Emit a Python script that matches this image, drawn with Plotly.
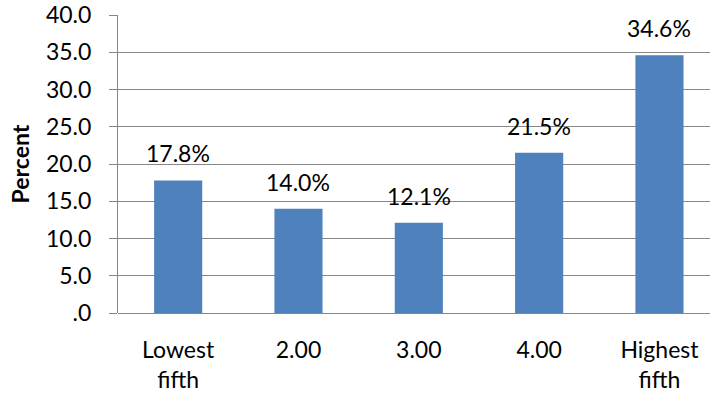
import plotly.graph_objects as go

categories = ["Lowest<br>fifth", "2.00", "3.00", "4.00", "Highest<br>fifth"]
values = [17.8, 14.0, 12.1, 21.5, 34.6]
y_ticks = [0, 5, 10, 15, 20, 25, 30, 35, 40]
y_tick_labels = [".0", "5.0", "10.0", "15.0", "20.0", "25.0", "30.0", "35.0", "40.0"]

FONT = "Lato, Carlito, Calibri, sans-serif"
GRID = "#878787"
FS = 23

fig = go.Figure()
fig.add_trace(go.Bar(
    x=list(range(len(categories))), y=values, width=0.4,
    marker=dict(color="#4F81BD", line=dict(width=0)),
    hoverinfo="skip",
))
for i, v in enumerate(values):
    fig.add_annotation(x=i, y=v, text=f"{v:.1f}%", showarrow=False,
                       yanchor="bottom", yshift=11,
                       font=dict(family=FONT, size=FS, color="#000"))

fig.update_layout(
    width=710, height=394,
    margin=dict(l=118, r=0, t=15, b=81),
    paper_bgcolor="white", plot_bgcolor="white",
    showlegend=False,
    font=dict(family=FONT, size=FS, color="#000"),
    xaxis=dict(
        range=[-0.5, 4.42], tickmode="array",
        tickvals=list(range(len(categories))), ticktext=categories,
        showgrid=False, showline=False, zeroline=False, ticks="",
        ticklabelstandoff=21,
    ),
    yaxis=dict(
        range=[0, 40], tickmode="array", tickvals=y_ticks, ticktext=y_tick_labels,
        showgrid=True, gridcolor=GRID, gridwidth=1,
        showline=True, linecolor=GRID, linewidth=1,
        zeroline=True, zerolinecolor=GRID, zerolinewidth=1,
        ticks="outside", ticklen=8, tickcolor=GRID,
        ticklabelstandoff=13,
        title=dict(text="<b>Percent</b>", font=dict(family=FONT, size=FS), standoff=9),
    ),
)
fig.write_html("out.html")
